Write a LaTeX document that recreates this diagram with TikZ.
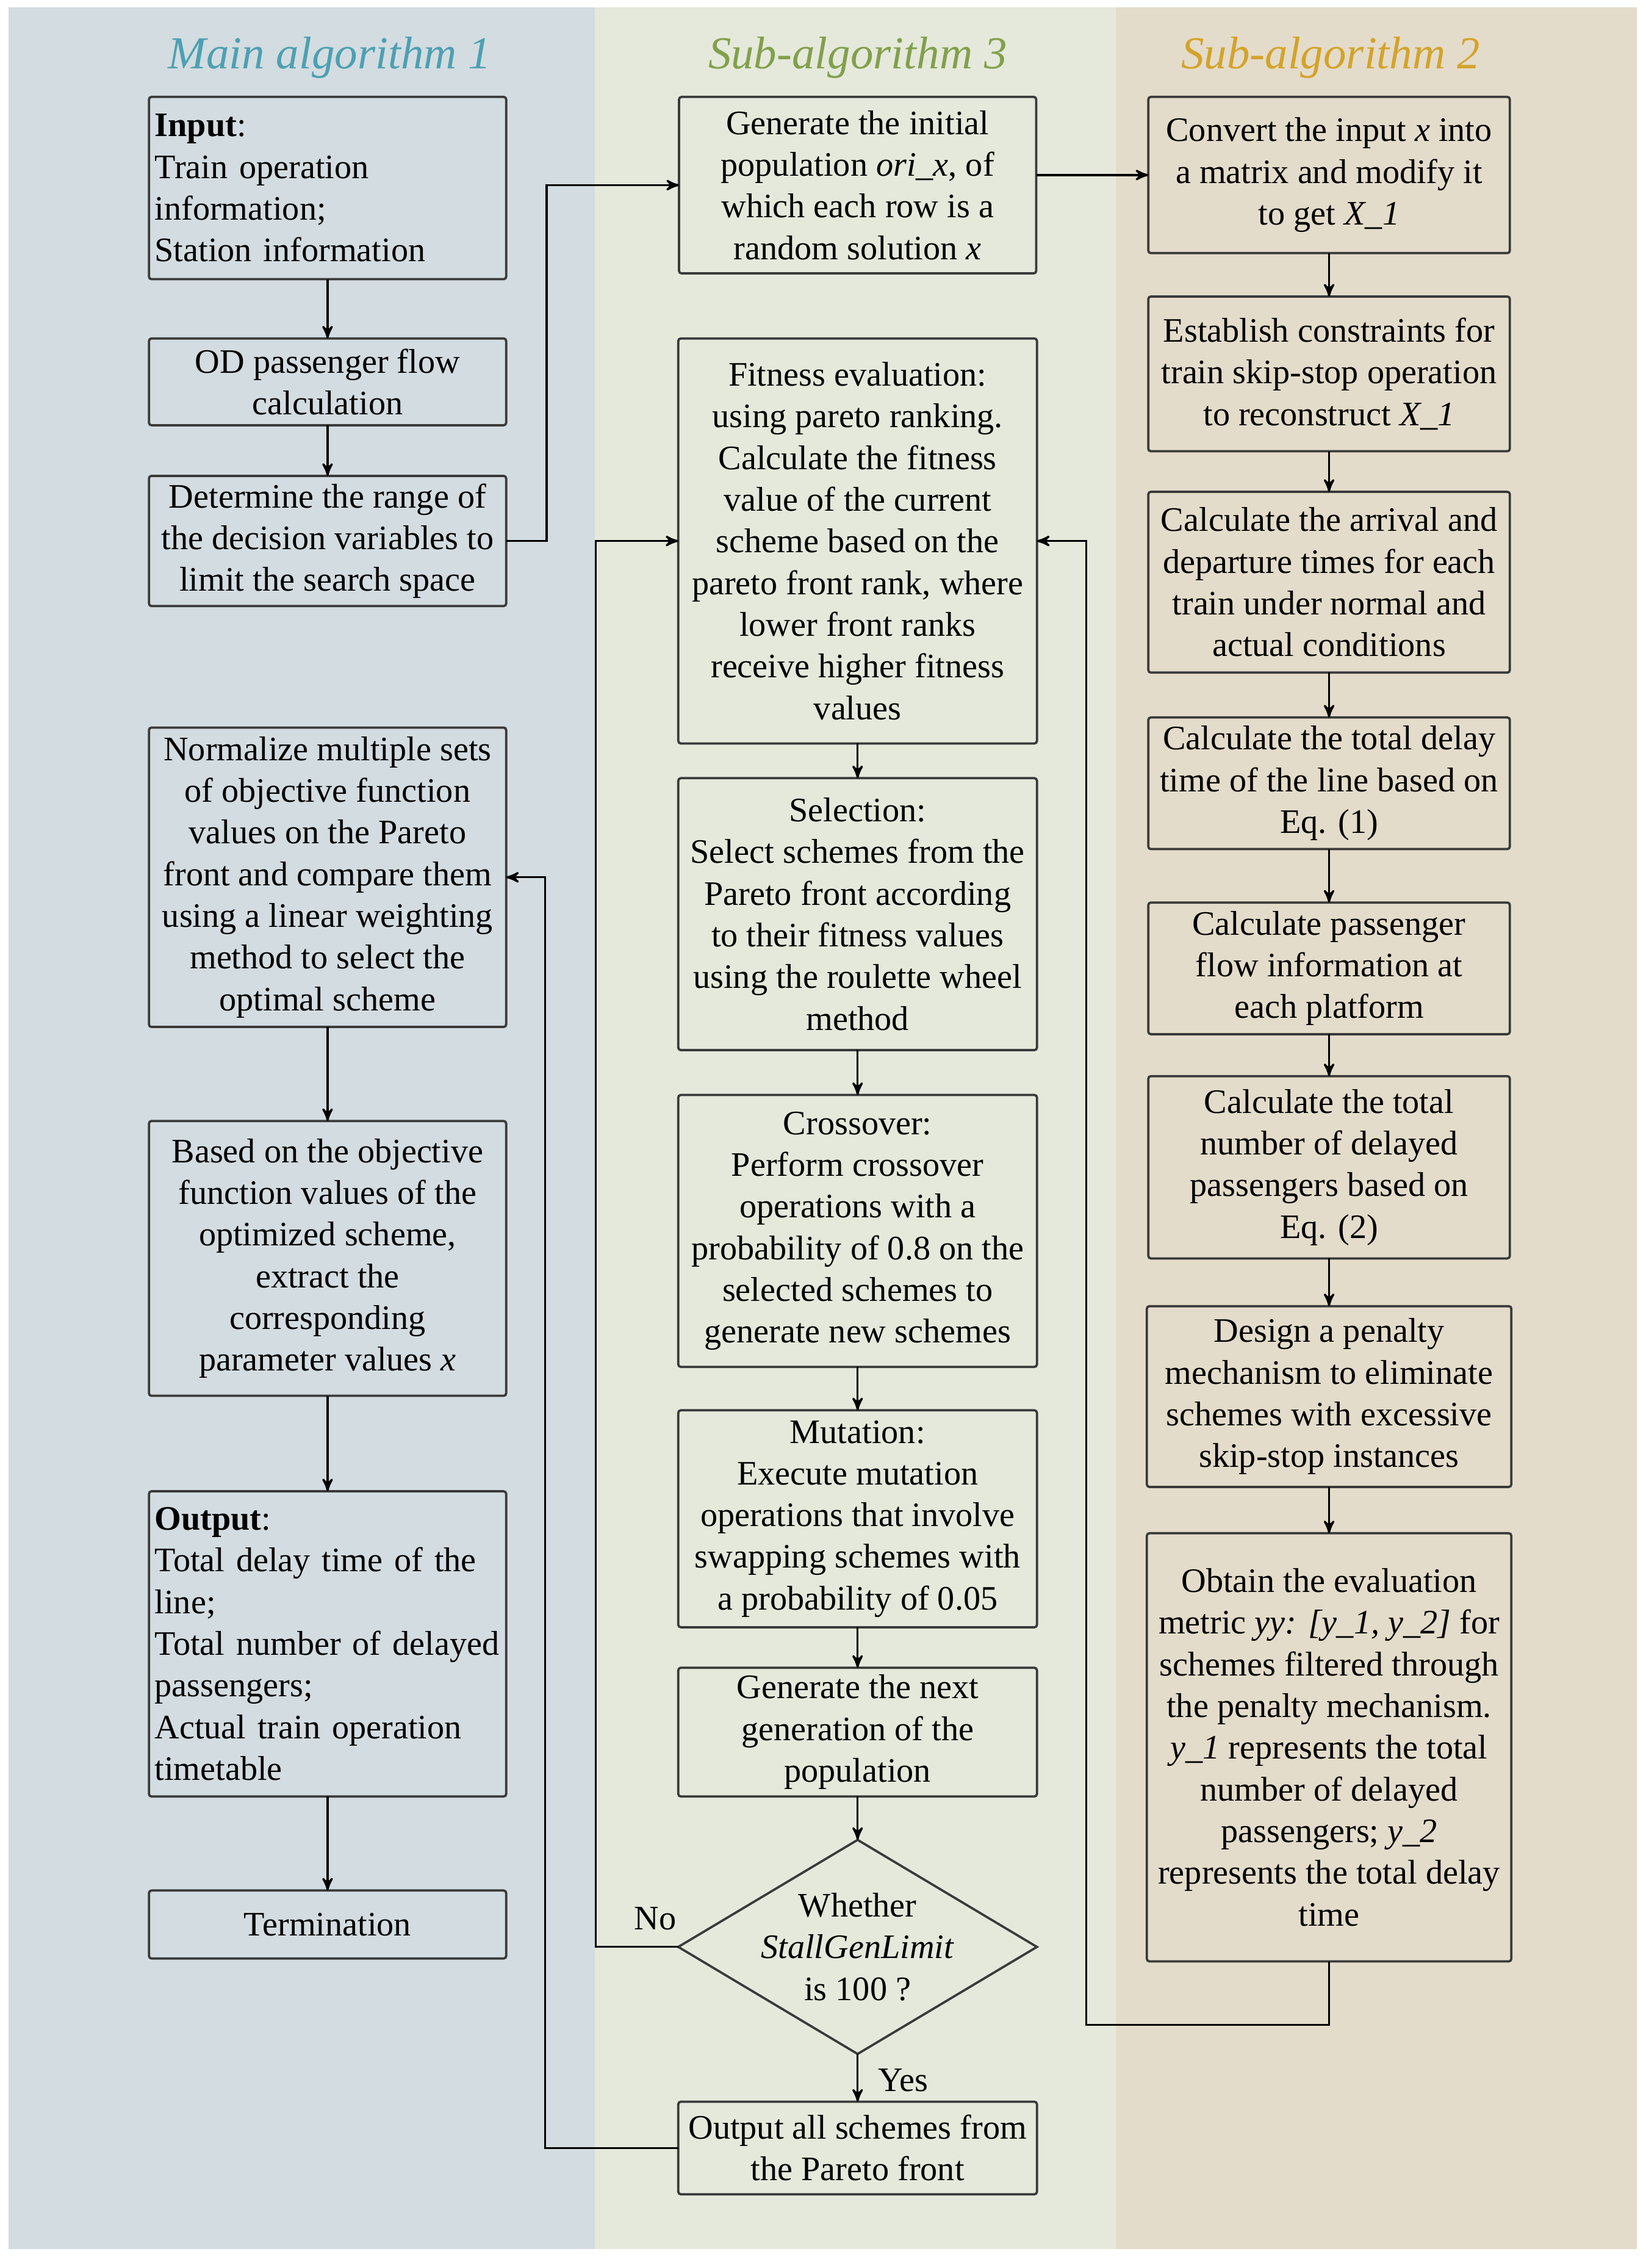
\documentclass[tikz,border=0pt]{standalone}
\usepackage{fontspec}
\setmainfont{Liberation Serif}
\usepackage{tikz}
\usetikzlibrary{positioning, arrows, shapes.geometric}

\definecolor{panelmain}{HTML}{D3DCE0}
\definecolor{panelthree}{HTML}{E5E9DB}
\definecolor{paneltwo}{HTML}{E4DCCA}
\definecolor{titlemain}{HTML}{4DA0B2}
\definecolor{titlethree}{HTML}{82A04C}
\definecolor{titletwo}{HTML}{D3A32A}
\definecolor{boxline}{HTML}{3A3A3A}

\begin{document}
\begin{tikzpicture}[x=1mm, y=1mm, >=stealth', line width=0.8pt, node distance=6mm]
			\tikzstyle{box}=[draw=boxline, line width=0.9pt, rounded corners=1pt, outer sep=0pt, align=center, inner xsep=1pt, inner ysep=1pt, font=\fontsize{13.5pt}{16.4pt}\selectfont]
			\tikzstyle{leftbox}=[box, align=left, inner xsep=0.8mm, text width=47.8mm]
			\tikzstyle{decision}=[diamond, draw=boxline, line width=0.9pt, outer sep=0pt, inner sep=0pt, minimum width=49.6mm, minimum height=29.6mm]
			\tikzstyle{heading}=[font=\fontsize{18pt}{20pt}\selectfont\itshape]
			\tikzstyle{tag}=[font=\fontsize{13.5pt}{16.4pt}\selectfont]
			\useasboundingbox (0,0) rectangle (227.6,-313.6);
			% background panels
			\fill[panelmain]  (1.2,-1) rectangle (82.3,-311);
			\fill[panelthree] (82.3,-1) rectangle (154.3,-311);
			\fill[paneltwo]   (154.3,-1) rectangle (226.4,-311);
			\node[heading, text=titlemain]  (tmain)  at (45.6,-8)  {Main algorithm 1};
			\node[heading, text=titlethree] (tthree) at (118.6,-8) {Sub-algorithm 3};
			\node[heading, text=titletwo]   (ttwo)   at (184,-8)   {Sub-algorithm 2};
			% main algorithm 1
			\node[leftbox, minimum height=25.2mm] (input) at (45.3,-26) {\textbf{Input}:\\Train operation\\information;\\Station information};
			\node[box, minimum width=49.4mm, minimum height=12mm]   (od)    [below=8.2mm of input] {OD passenger flow\\calculation};
			\node[box, minimum width=49.4mm, minimum height=18mm]   (range) [below=7mm of od] {Determine the range of\\the decision variables to\\limit the search space};
			\node[box, minimum width=49.4mm, minimum height=41.4mm] (norm)  [below=16.8mm of range] {Normalize multiple sets\\of objective function\\values on the Pareto\\front and compare them\\using a linear weighting\\method to select the\\optimal scheme};
			\node[box, minimum width=49.4mm, minimum height=38mm]   (based) [below=13mm of norm] {Based on the objective\\function values of the\\optimized scheme,\\extract the\\corresponding\\parameter values \textit{x}};
			\node[leftbox, minimum height=42.2mm] (outp) [below=13.2mm of based] {\textbf{Output}:\\Total delay time of the\\line;\\Total number of delayed\\passengers;\\Actual train operation\\timetable};
			\node[box, minimum width=49.4mm, minimum height=9.4mm]  (term)  [below=13mm of outp] {Termination};
			% sub-algorithm 3
			\node[box, minimum width=49.4mm, minimum height=24.4mm] (gen)   at (118.6,-25.6) {Generate the initial\\population \textit{ori\_x}, of\\which each row is a\\random solution \textit{x}};
			\node[box, minimum width=49.6mm, minimum height=56mm]   (fit)   [below=9mm of gen] {Fitness evaluation:\\using pareto ranking.\\Calculate the fitness\\value of the current\\scheme based on the\\pareto front rank, where\\lower front ranks\\receive higher fitness\\values};
			\node[box, minimum width=49.6mm, minimum height=37.6mm] (sel)   [below=4.8mm of fit] {Selection:\\Select schemes from the\\Pareto front according\\to their fitness values\\using the roulette wheel\\method};
			\node[box, minimum width=49.6mm, minimum height=37.6mm] (cross) [below=6.2mm of sel] {Crossover:\\Perform crossover\\operations with a\\probability of 0.8 on the\\selected schemes to\\generate new schemes};
			\node[box, minimum width=49.6mm, minimum height=30mm]   (mut)   [below=6mm of cross] {Mutation:\\Execute mutation\\operations that involve\\swapping schemes with\\a probability of 0.05};
			\node[box, minimum width=49.6mm, minimum height=17.8mm] (next)  [below=5.6mm of mut] {Generate the next\\generation of the\\population};
			\node[decision] (dec) [below=6mm of next] {};
			\node[tag, align=center] (dectxt) at (dec) {Whether\\\textit{StallGenLimit}\\is 100 ?};
			\node[box, minimum width=49.6mm, minimum height=12.8mm] (outall) [below=6.6mm of dec] {Output all schemes from\\the Pareto front};
			% sub-algorithm 2
			\node[box, minimum width=50mm, minimum height=21.6mm] (conv)  at (183.8,-24.2) {Convert the input \textit{x} into\\a matrix and modify it\\to get \textit{X\_1}};
			\node[box, minimum width=50mm, minimum height=21.4mm] (cons)  [below=6mm of conv] {Establish constraints for\\train skip-stop operation\\to reconstruct \textit{X\_1}};
			\node[box, minimum width=50mm, minimum height=25mm]   (arr)   [below=5.6mm of cons] {Calculate the arrival and\\departure times for each\\train under normal and\\actual conditions};
			\node[box, minimum width=50mm, minimum height=18.2mm] (delay) [below=6.2mm of arr] {Calculate the total delay\\time of the line based on\\Eq. (1)};
			\node[box, minimum width=50mm, minimum height=18.2mm] (flow)  [below=7.4mm of delay] {Calculate passenger\\flow information at\\each platform};
			\node[box, minimum width=50mm, minimum height=25.2mm] (num)   [below=5.8mm of flow] {Calculate the total\\number of delayed\\passengers based on\\Eq. (2)};
			\node[box, minimum width=50.4mm, minimum height=25mm] (pen)   [below=6.6mm of num] {Design a penalty\\mechanism to eliminate\\schemes with excessive\\skip-stop instances};
			\node[box, minimum width=50.4mm, minimum height=59.2mm] (eval) [below=6.4mm of pen] {Obtain the evaluation\\metric \textit{yy: [y\_1, y\_2]} for\\schemes filtered through\\the penalty mechanism.\\\textit{y\_1} represents the total\\number of delayed\\passengers; \textit{y\_2}\\represents the total delay\\time};
			% connectors
			\path[draw, ->]
			(input) edge (od)
			(od) edge (range)
			(norm) edge (based)
			(based) edge (outp)
			(outp) edge (term)
			(fit) edge (sel)
			(sel) edge (cross)
			(cross) edge (mut)
			(mut) edge (next)
			(next) edge (dec)
			(conv) edge (cons)
			(cons) edge (arr)
			(arr) edge (delay)
			(delay) edge (flow)
			(flow) edge (num)
			(num) edge (pen)
			(pen) edge (eval);
			\draw[->] (dec) -- node[tag, right=1.5mm, pos=0.55] {Yes} (outall);
			\draw[->] (range.east) -- ++(5.6mm,0) |- (gen.west);
			\draw[->] (conv.west -| gen.east) -- (conv.west);
			\draw[->] (eval.south) -- ++(0,-8.8mm) -| ([xshift=6.8mm]fit.east) -- (fit.east);
			\draw[->] (dec.west) -- node[tag, above=3pt, pos=0.28] {No} ++(-11.4mm,0) |- (fit.west);
			\draw[->] (outall.west) -- ++(-18.4mm,0) |- (norm.east);
		\end{tikzpicture}
\end{document}
